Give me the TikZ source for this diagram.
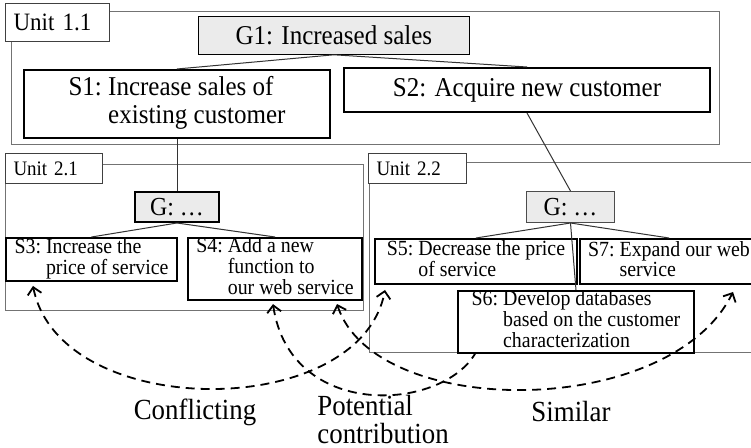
\documentclass[tikz,border=0pt]{standalone}
\usepackage{fontspec}
\setmainfont[FakeStretch=0.92]{Liberation Serif}
\usetikzlibrary{arrows.meta}

\tikzset{
	unitframe/.style={draw=black!55, line width=0.5pt},
	unitlabel/.style={draw=black!75, fill=white, line width=0.5pt, anchor=north west, inner xsep=4pt, inner ysep=0pt, align=left},
	goalbox/.style={draw, fill=black!8, anchor=north west, inner sep=0pt},
	stratbox/.style={draw, line width=1pt, anchor=north west, inner sep=0pt},
	link/.style={draw=black!80, line width=0.5pt},
	relation/.style={line width=0.9pt, dash pattern=on 4.5pt off 3pt, >={Straight Barb[length=3.5pt,width=7pt]}},
	rellabel/.style={font=\fontsize{14.6}{13.8}\selectfont, inner sep=0pt, align=left}
}
\newcommand{\bigtext}{\fontsize{13.6}{14}\selectfont}
\newcommand{\smalltext}{\fontsize{10.8}{9.4}\selectfont}
\newcommand{\strat}[2]{#1~\begin{tabular}[t]{@{}l@{}}#2\end{tabular}}

\begin{document}
\begin{tikzpicture}[x=0.5pt, y=-0.5pt]
	\clip (0,0) rectangle (751,448);

		% unit frames
		\draw[unitframe] (11,12) rectangle (719,145);
		\draw[unitframe] (5,165) rectangle (363,311);
		\draw[unitframe] (369,163) rectangle (780,353);

		\node[unitlabel, text width=44pt, minimum height=19pt, font=\fontsize{12.5}{12}\selectfont] (u11) at (5,3) {Unit 1.1};
		\node[unitlabel, text width=40.5pt, minimum height=15pt, font=\fontsize{10.3}{10}\selectfont] (u21) at (5,153) {Unit 2.1};
		\node[unitlabel, text width=41pt, minimum height=15pt, font=\fontsize{10.3}{10}\selectfont] (u22) at (368,153) {Unit 2.2};

		% unit 1.1
		\node[goalbox, minimum width=135.5pt, minimum height=19pt, font=\bigtext] (g1) at (198,16) {G1: Increased sales};
		\node[stratbox, minimum width=153pt, minimum height=34pt, font=\bigtext] (s1) at (23,69) {\strat{S1:}{Increase sales of\\ existing customer}};
		\node[stratbox, minimum width=183pt, minimum height=22pt, font=\bigtext] (s2) at (343,67) {S2: Acquire new customer};

		% unit 2.1
		\node[goalbox, line width=1pt, minimum width=42pt, minimum height=15pt, font=\fontsize{13}{13}\selectfont] (g21) at (134,191) {G: \dots};
		\node[stratbox, minimum width=85.5pt, minimum height=21.5pt, font=\smalltext] (s3) at (5,237) {\strat{S3:}{Increase the\\ price of service}};
		\node[stratbox, minimum width=87pt, minimum height=31pt, font=\smalltext] (s4) at (187,237) {\strat{S4:}{Add a new\\ function to\\ our web service}};

		% unit 2.2
		\node[goalbox, draw=black!70, line width=0.5pt, minimum width=44pt, minimum height=15.5pt, font=\fontsize{13}{13}\selectfont] (g22) at (526,191) {G: \dots};
		\node[stratbox, minimum width=101pt, minimum height=22.5pt, font=\smalltext] (s5) at (374,238) {\strat{S5:}{Decrease the price\\ of service}};
		\node[stratbox, minimum width=118pt, minimum height=30pt, font=\smalltext] (s6) at (457,290) {\strat{S6:}{Develop databases\\ based on the customer\\ characterization}};
		\node[stratbox, minimum width=89pt, minimum height=22.5pt, font=\smalltext] (s7) at (579,238) {\strat{S7:}{Expand our web\\ service}};

		% decomposition links
		\draw[link] (g1.south) -- (s1.north);
		\draw[link] (g1.south) -- (s2.north);
		\draw[link] (s1.south) -- (g21.north);
		\draw[link] (s2.south) -- (g22.north);
		\draw[link] (g21.south) -- (s3.north);
		\draw[link] (g21.south) -- (s4.north);
		\draw[link] (g22.south) -- (s5.north);
		\draw[link] (g22.south) -- (s7.north);
		\draw[link] (g22.south) -- (s6.north);

		% relations between strategies
		\draw[relation, <->] ([xshift=14pt, yshift=-2pt]s3.south west) .. controls (60,422) and (360,422) .. ([xshift=5.5pt, yshift=-2.5pt]s5.south west);
		\draw[relation, <-] ([xshift=43pt, yshift=-1.5pt]s4.south west) .. controls (290,420) and (440,412) .. ([xshift=9pt]s6.south west);
		\draw[relation, <->] ([xshift=75pt, yshift=-1.5pt]s4.south west) .. controls (375,420) and (670,420) .. ([xshift=77pt, yshift=-3.5pt]s7.south west);

		\node[rellabel] (conflicting) at (195,412) {Conflicting};
		\node[rellabel, anchor=north west] (contribution) at (317,395) {Potential\\ contribution};
		\node[rellabel] (similar) at (571,412) {Similar};

\end{tikzpicture}
\end{document}
